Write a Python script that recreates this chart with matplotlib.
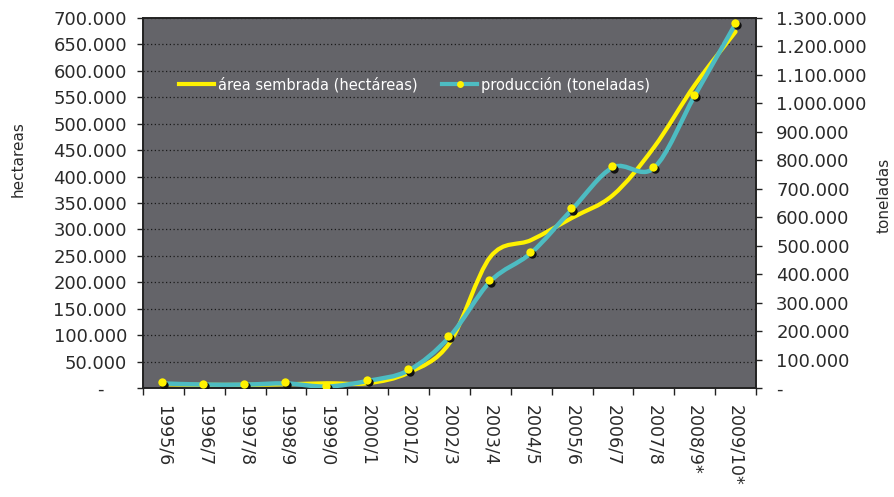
import matplotlib.pyplot as plt
import matplotlib.transforms as mtransforms
from matplotlib.path import Path
from matplotlib.patches import PathPatch
from matplotlib.lines import Line2D
from matplotlib.ticker import FuncFormatter, MultipleLocator
import numpy as np

campaigns = ["1995/6", "1996/7", "1997/8", "1998/9", "1999/0", "2000/1", "2001/2",
             "2002/3", "2003/4", "2004/5", "2005/6", "2006/7", "2007/8", "2008/9*", "2009/10*"]
area_ha = [7000, 6000, 6000, 7000, 9000, 9000, 29000, 85000, 248000, 280000,
           322000, 365000, 455000, 573000, 674000]
prod_t = [16000, 12000, 12000, 16000, 5000, 25000, 62000, 180000, 375000, 475000,
          628000, 775000, 773000, 1027000, 1280000]

YELLOW = "#fff200"
TEAL = "#4dbcc2"
BG = "#646469"
TXT = "#2a2a2a"


def miles(v, pos=None):
    """Formato tipo Excel: separador de miles con punto, cero como guion"""
    if abs(v) < 1e-6:
        return "-"
    return f"{int(round(v)):,}".replace(",", ".")


def miles_izq(v, pos=None):
    # en el eje izquierdo el guion del cero queda corrido a la izquierda
    s = miles(v)
    return s + "    " if s == "-" else s


def smooth_path(xs, ys):
    """Curva suavizada estilo Excel (Bezier cubica por tramos)"""
    pts = np.column_stack([xs, ys]).astype(float)
    n = len(pts)
    verts = [pts[0]]
    codes = [Path.MOVETO]
    for i in range(n - 1):
        p0 = pts[i - 1] if i > 0 else pts[i]
        p1 = pts[i]
        p2 = pts[i + 1]
        p3 = pts[i + 2] if i + 2 < n else pts[i + 1]
        c1 = p1 + (p2 - p0) / 6.0
        c2 = p2 - (p3 - p1) / 6.0
        verts += [c1, c2, p2]
        codes += [Path.CURVE4] * 3
    return Path(verts, codes)


fig = plt.figure(figsize=(8.95, 4.97), dpi=100)
ax1 = fig.add_axes([143 / 895, 1 - 388 / 497, 613 / 895, 370 / 497])
ax2 = ax1.twinx()
ax1.set_facecolor(BG)

x = np.arange(len(campaigns))

# area sembrada (eje izquierdo)
ax1.add_patch(PathPatch(smooth_path(x, area_ha), fill=False, edgecolor=YELLOW,
                        lw=3, capstyle="round", joinstyle="round", zorder=3))

# produccion (eje derecho)
ax2.add_patch(PathPatch(smooth_path(x, prod_t), fill=False, edgecolor=TEAL,
                        lw=3.2, capstyle="round", joinstyle="round", zorder=3))
sh = mtransforms.offset_copy(ax2.transData, fig=fig, x=1, y=-1.5, units="dots")
yl = mtransforms.offset_copy(ax2.transData, fig=fig, x=-1, y=1, units="dots")
ax2.plot(x, prod_t, "o", ms=6, color="#111111", mec="none", transform=sh, zorder=4)
ax2.plot(x, prod_t, "o", ms=6, color=YELLOW, mec="none", transform=yl, zorder=5)

ax1.set_xlim(-0.5, len(campaigns) - 0.5)
ax1.set_ylim(0, 700000)
ax2.set_ylim(0, 1300000)

ax1.yaxis.set_major_locator(MultipleLocator(50000))
ax2.yaxis.set_major_locator(MultipleLocator(100000))
ax1.yaxis.set_major_formatter(FuncFormatter(miles_izq))
ax2.yaxis.set_major_formatter(FuncFormatter(miles))

ax1.set_xticks(x)
ax1.set_xticklabels(campaigns, rotation=-90, fontsize=12.5, color=TXT)
ax1.set_xticks(np.arange(-0.5, len(campaigns)), minor=True)
ax1.tick_params(axis="x", which="major", length=0, pad=12)
ax1.tick_params(axis="x", which="minor", length=5, width=1, color="#222")

ax1.tick_params(axis="y", length=4.5, width=1, color="#222", labelsize=13,
                labelcolor=TXT, pad=7)
ax2.tick_params(axis="y", length=4.5, width=1, color="#222", labelsize=13,
                labelcolor=TXT, pad=10)

ax1.grid(axis="y", linestyle=(0, (1, 2)), color="#1a1a1a", lw=0.9)
ax1.set_axisbelow(True)

for ax in (ax1, ax2):
    for s in ax.spines.values():
        s.set_color("#222")
        s.set_linewidth(1.2)

ax1.set_ylabel("hectareas", fontsize=11, color=TXT)
ax1.yaxis.set_label_coords(-0.191, 0.62)
ax2.set_ylabel("toneladas", fontsize=11, color=TXT, rotation=90)
ax2.yaxis.set_label_coords(1.197, 0.52)

handles = [
    Line2D([], [], color=YELLOW, lw=3),
    Line2D([], [], color=TEAL, lw=3, marker="o", ms=5, mfc=YELLOW, mec="none"),
]
leg = ax1.legend(handles, ["área sembrada (hectáreas)", "producción (toneladas)"],
                 loc="center left", bbox_to_anchor=(0.0375, 0.82), ncol=2,
                 frameon=False, fontsize=10.5, handlelength=2.4, handletextpad=0.27,
                 columnspacing=1.7)
for t in leg.get_texts():
    t.set_color("white")

fig.savefig("out.png", dpi=100, facecolor="white")
